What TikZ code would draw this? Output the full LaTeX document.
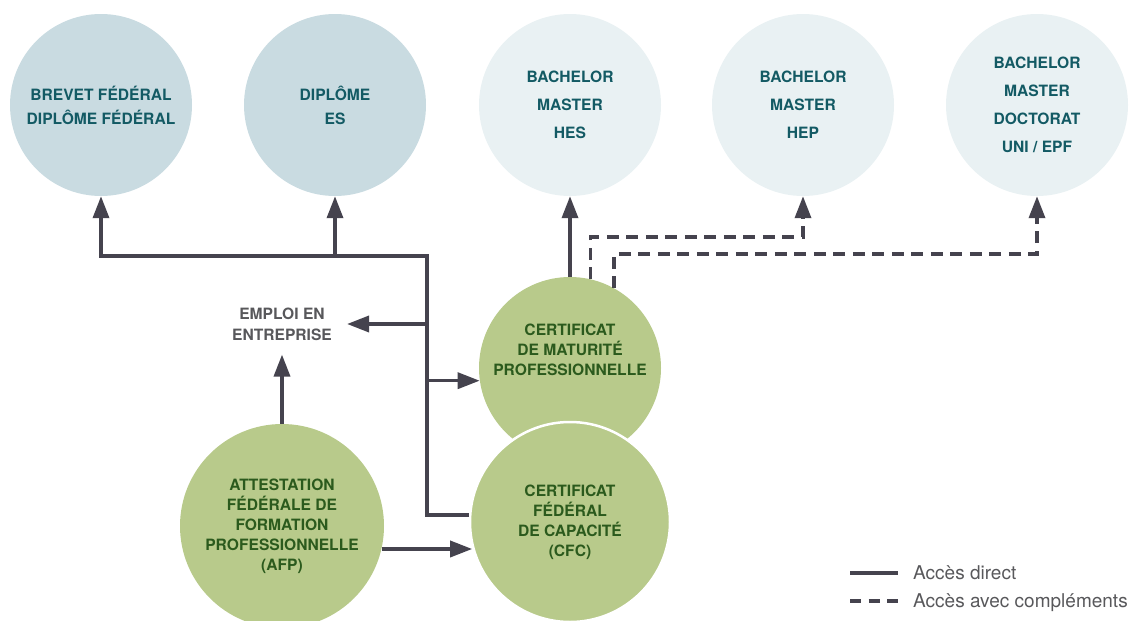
\documentclass[tikz,border=0pt]{standalone}
\usepackage{fontspec}
\setmainfont{TeX Gyre Heros}
\usetikzlibrary{arrows.meta}
\definecolor{bluedark}{HTML}{C9DBE1}
\definecolor{bluelight}{HTML}{E9F1F3}
\definecolor{greenfill}{HTML}{B8CA8B}
\definecolor{tealtext}{HTML}{135A64}
\definecolor{greentext}{HTML}{2B5A1D}
\definecolor{linegray}{HTML}{45434E}
\definecolor{textgray}{HTML}{58585B}

\begin{document}
\begin{tikzpicture}[x=1pt, y=-1pt,
		conn/.style={draw=linegray, line width=3.5pt},
		dashconn/.style={conn, dash pattern=on 12pt off 7.5pt},
		>={Triangle[length=22pt, width=16pt]},
		titre/.style={font=\bfseries\fontsize{15.6}{#1}\selectfont, align=center},
		hautecole/.style={circle, inner sep=0pt, minimum size=182pt, text=tealtext},
		greenbox/.style={circle, inner sep=0pt, fill=greenfill, text=greentext, titre=20}]
	\useasboundingbox (0,0) rectangle (1130,621);
	% diplomes du haut
	\node[hautecole, fill=bluedark, titre=24] (brevet)at(101, 105) {BREVET FÉDÉRAL\\DIPLÔME FÉDÉRAL};
	\node[hautecole, fill=bluedark, titre=24] (dipl)at(335, 105) {DIPLÔME\\ES};
	\node[hautecole, fill=bluelight, titre=28] (hes)at(570, 105) {BACHELOR\\MASTER\\HES};
	\node[hautecole, fill=bluelight, titre=28] (hep)at(803, 105) {BACHELOR\\MASTER\\HEP};
	\node[hautecole, fill=bluelight, titre=28] (uni)at(1037, 105) {BACHELOR\\MASTER\\DOCTORAT\\UNI / EPF};
	% formation professionnelle
	\node[greenbox, minimum size=182pt, label={[text=greentext, titre=20, yshift=18pt]center:{CERTIFICAT\\DE MATURITÉ\\PROFESSIONNELLE}}] (mat)at(570, 368) {};
	\node[greenbox, minimum size=200pt, draw=white, line width=2.5pt] (cfc)at(570, 522) {CERTIFICAT\\FÉDÉRAL\\DE CAPACITÉ\\(CFC)};
	\node[greenbox, minimum size=204pt] (afp)at(282, 526) {ATTESTATION\\FÉDÉRALE DE\\FORMATION\\PROFESSIONNELLE\\(AFP)};
	\node[titre=21, text=textgray, inner xsep=15pt, inner ysep=14pt] (emploi)at(282, 324) {EMPLOI EN\\ENTREPRISE};
	% connecteurs
	\coordinate (tree)at(427, 256);
	\coordinate (hepbend)at(803, 237);
	\coordinate (unibend)at(1037, 254);
	\draw[conn, ->] (cfc.176) -| (tree) -| (brevet.south);
	\draw[conn, ->] (dipl.south |- tree) -- (dipl.south);
	\draw[conn, ->] (emploi.east -| tree) -- (emploi.east);
	\draw[conn, ->] (mat.188 -| tree) -- (mat.188);
	\draw[conn, ->] (afp.north) -- (emploi.south);
	\draw[conn, ->] (afp.-13) -- (afp.-13 -| cfc.195);
	\draw[conn, ->] (mat.north) -- (hes.south);
	\draw[dashconn, ->] (mat.77) |- (hepbend) -- (hep.south);
	\draw[dashconn, ->] (mat.61) |- (unibend) -- (uni.south);
	% legende
	\coordinate (leg1a)at(850, 573);
	\coordinate (leg1b)at(898, 573);
	\coordinate (leg2a)at(850, 601);
	\coordinate (leg2b)at(898, 601);
	\draw[conn] (leg1a) -- (leg1b);
	\draw[dashconn, dash pattern=on 11pt off 7.5pt] (leg2a) -- (leg2b);
	\node[anchor=base west, inner sep=0pt, text=textgray, font=\fontsize{19}{21}\selectfont] (leg1)at(913, 579) {Accès direct};
	\node[anchor=base west, inner sep=0pt, text=textgray, font=\fontsize{19}{21}\selectfont] (leg2)at(913, 607) {Accès avec compléments};
\end{tikzpicture}
\end{document}
